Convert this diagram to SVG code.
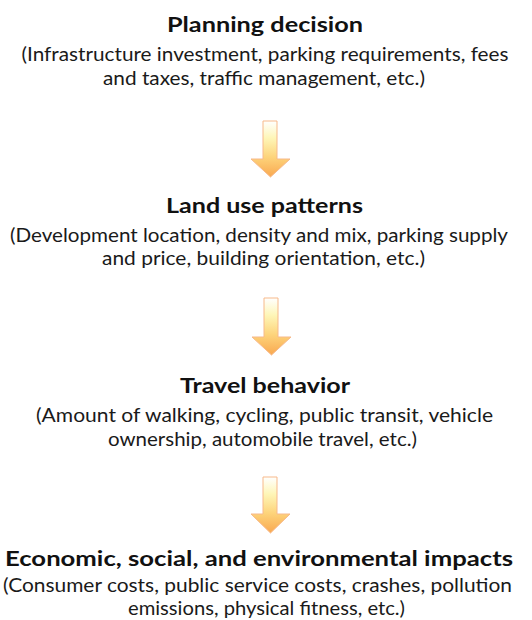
<svg xmlns="http://www.w3.org/2000/svg" width="532" height="620" viewBox="0 0 532 620">
<defs>
<linearGradient id="ag" x1="0" y1="0" x2="0" y2="1">
<stop offset="0" stop-color="#ffffff"/>
<stop offset="0.3" stop-color="#fef6b8"/>
<stop offset="0.65" stop-color="#fdd37a"/>
<stop offset="1" stop-color="#f9a850"/>
</linearGradient>
<style>
.t{font-family:Lato,"Liberation Sans",sans-serif;font-weight:bold;font-size:21px;fill:#111;text-anchor:middle}
.s{font-family:Lato,"Liberation Sans",sans-serif;font-size:18.5px;fill:#1a1a1a;text-anchor:middle}
.a{fill:url(#ag);stroke:#f7b98a;stroke-width:1;stroke-linejoin:miter}
</style>
</defs>
<rect width="532" height="620" fill="#ffffff"/>
<g id="planning">
<text class="t" x="265" y="32" textLength="196" lengthAdjust="spacingAndGlyphs">Planning decision</text>
<text class="s" x="265" y="61" textLength="487" lengthAdjust="spacingAndGlyphs">(Infrastructure investment, parking requirements, fees</text>
<text class="s" x="264" y="85" textLength="322" lengthAdjust="spacingAndGlyphs">and taxes, traffic management, etc.)</text>
</g>
<g id="landuse">
<text class="t" x="264.5" y="213" textLength="197" lengthAdjust="spacingAndGlyphs">Land use patterns</text>
<text class="s" x="259" y="242" textLength="498" lengthAdjust="spacingAndGlyphs">(Development location, density and mix, parking supply</text>
<text class="s" x="263.5" y="265" textLength="323" lengthAdjust="spacingAndGlyphs">and price, building orientation, etc.)</text>
</g>
<g id="travel">
<text class="t" x="265" y="393" textLength="170" lengthAdjust="spacingAndGlyphs">Travel behavior</text>
<text class="s" x="264.5" y="422" textLength="457" lengthAdjust="spacingAndGlyphs">(Amount of walking, cycling, public transit, vehicle</text>
<text class="s" x="262.5" y="446" textLength="309" lengthAdjust="spacingAndGlyphs">ownership, automobile travel, etc.)</text>
</g>
<g id="impacts">
<text class="t" x="259" y="566" textLength="508" lengthAdjust="spacingAndGlyphs">Economic, social, and environmental impacts</text>
<text class="s" x="257.5" y="592" textLength="509" lengthAdjust="spacingAndGlyphs">(Consumer costs, public service costs, crashes, pollution</text>
<text class="s" x="266.5" y="615" textLength="277" lengthAdjust="spacingAndGlyphs">emissions, physical fitness, etc.)</text>
</g>
<g id="connectors">
<path class="a" d="M263,121 H277 V159 H290 L270.5,177 L251,159 H263 Z"/>
<path class="a" d="M264,298 H278 V337 H291 L271.5,355 L252,337 H264 Z"/>
<path class="a" d="M263,477 H277 V514 H290 L270.5,533 L251,514 H263 Z"/>
</g>
</svg>
